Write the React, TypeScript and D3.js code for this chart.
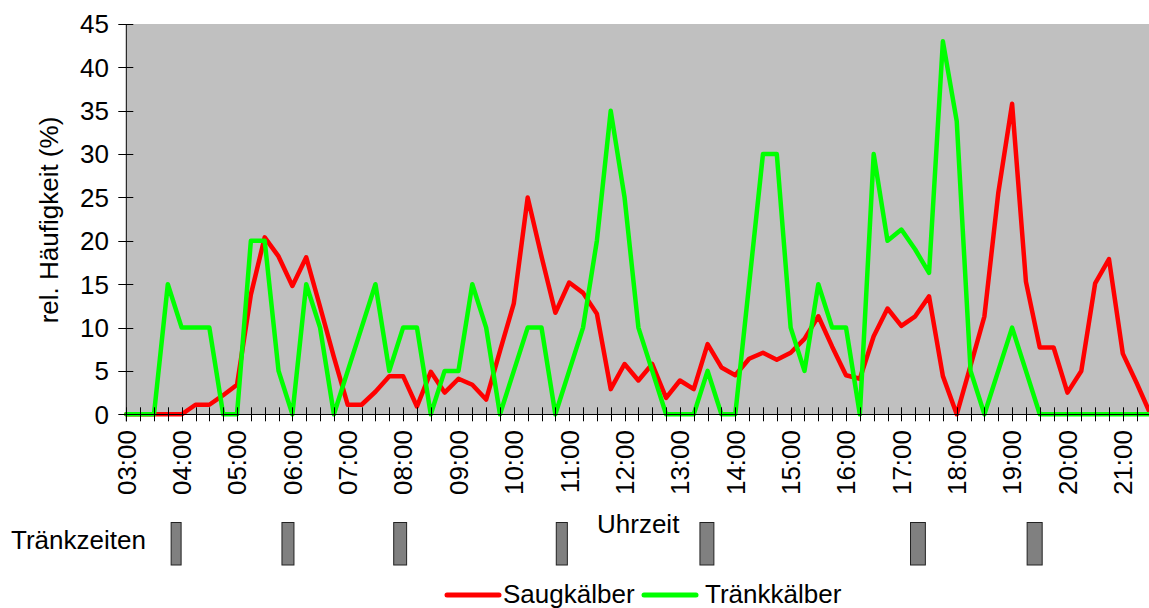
import React, { useEffect, useRef } from "react";
import * as d3 from "d3";

// ---- data ----
const startMinutes = 180; // 03:00
const stepMinutes = 15;

const saugkaelber = [
  0, 0, 0, 0, 0, 1.1, 1.1, 2.2, 3.4, 13.8, 20.4, 18.2, 14.8, 18.1, 12.4, 6.6,
  1.1, 1.1, 2.6, 4.4, 4.4, 0.9, 4.9, 2.5, 4.1, 3.4, 1.7, 7.3, 12.8, 25.0, 18.2,
  11.7, 15.2, 14.0, 11.6, 2.9, 5.8, 3.9, 5.8, 1.9, 3.9, 2.9, 8.1, 5.4, 4.5, 6.4,
  7.1, 6.3, 7.1, 8.7, 11.3, 7.8, 4.5, 4.1, 9.0, 12.2, 10.2, 11.3, 13.6, 4.4, 0,
  5.6, 11.3, 25.5, 35.8, 15.3, 7.7, 7.7, 2.5, 5.0, 15.1, 17.9, 7.0, 3.6, 0,
];

const traenkkaelber = [
  0, 0, 0, 15, 10, 10, 10, 0, 0, 20, 20, 5, 0, 15, 10, 0, 5, 10, 15, 5, 10, 10,
  0, 5, 5, 15, 10, 0, 5, 10, 10, 0, 5, 10, 20, 35, 25, 10, 5, 0, 0, 0, 5, 0, 0,
  15, 30, 30, 10, 5, 15, 10, 10, 0, 30, 20, 21.3, 19, 16.3, 43, 33.8, 5, 0, 5,
  10, 5, 0, 0, 0, 0, 0, 0, 0, 0, 0,
];

const xTickLabels = [
  "03:00", "04:00", "05:00", "06:00", "07:00", "08:00", "09:00", "10:00",
  "11:00", "12:00", "13:00", "14:00", "15:00", "16:00", "17:00", "18:00",
  "19:00", "20:00", "21:00",
];

const yTicks = [0, 5, 10, 15, 20, 25, 30, 35, 40, 45];

// drinking times (start, end) in minutes of day
const traenkzeitenStart = [228.6, 348.7, 469.8, 646, 801.7, 1029.9, 1156.3];
const traenkzeitenEnd = [239.4, 361.7, 483.8, 658, 816.8, 1046, 1172.6];

const seriesNames = ["Saugkälber", "Tränkkälber"];
const seriesColors = ["#ff0000", "#00ff00"];

const FONT = "'Liberation Sans', Arial, sans-serif";
const FS = 26;

export default function App() {
  const ref = useRef<SVGSVGElement | null>(null);

  useEffect(() => {
    const svg = d3.select(ref.current);
    svg.selectAll("*").remove();

    const left = 126.3;
    const right = 1150.5;
    const top = 24;
    const bottom = 414.3;

    const x = d3
      .scaleLinear()
      .domain([startMinutes, startMinutes + (saugkaelber.length - 1) * stepMinutes])
      .range([left, right]);
    const y = d3.scaleLinear().domain([0, 45]).range([bottom, top]);

    // plot area
    svg
      .append("rect")
      .attr("x", left)
      .attr("y", top)
      .attr("width", right - left)
      .attr("height", bottom - top)
      .attr("fill", "#c0c0c0");

    // series lines
    const line = d3
      .line<number>()
      .x((_, i) => x(startMinutes + i * stepMinutes))
      .y((d) => y(d));

    [saugkaelber, traenkkaelber].forEach((s, k) => {
      svg
        .append("path")
        .attr("d", line(s) as string)
        .attr("fill", "none")
        .attr("stroke", seriesColors[k])
        .attr("stroke-width", 4.5)
        .attr("stroke-linejoin", "round")
        .attr("stroke-linecap", "round");
    });

    // y axis
    svg
      .append("line")
      .attr("x1", left)
      .attr("x2", left)
      .attr("y1", top)
      .attr("y2", bottom + 7)
      .attr("stroke", "#000")
      .attr("stroke-width", 1);
    const yg = svg.append("g");
    yTicks.forEach((t) => {
      yg.append("line")
        .attr("x1", left - 8)
        .attr("x2", left + 7)
        .attr("y1", Math.round(y(t)) + 0.5)
        .attr("y2", Math.round(y(t)) + 0.5)
        .attr("stroke", "#000");
      yg.append("text")
        .attr("x", 109)
        .attr("y", y(t))
        .attr("dy", "0.36em")
        .attr("text-anchor", "end")
        .attr("font-family", FONT)
        .attr("font-size", FS)
        .attr("fill", "#000")
        .text(String(t));
    });

    // x axis
    svg
      .append("line")
      .attr("x1", left)
      .attr("x2", right)
      .attr("y1", Math.round(bottom) + 0.5)
      .attr("y2", Math.round(bottom) + 0.5)
      .attr("stroke", "#000")
      .attr("stroke-width", 1);
    const xg = svg.append("g");
    for (let i = 0; i < saugkaelber.length; i++) {
      const xx = Math.round(x(startMinutes + i * stepMinutes)) + 0.5;
      xg.append("line")
        .attr("x1", xx)
        .attr("x2", xx)
        .attr("y1", bottom - 7)
        .attr("y2", bottom + 7)
        .attr("stroke", "#000");
    }
    xTickLabels.forEach((lab, i) => {
      const xx = x(startMinutes + i * 60);
      xg.append("text")
        .attr("transform", `translate(${xx},430) rotate(-90)`)
        .attr("dy", "0.36em")
        .attr("text-anchor", "end")
        .attr("font-family", FONT)
        .attr("font-size", FS)
        .attr("fill", "#000")
        .text(lab);
    });

    // axis titles
    svg
      .append("text")
      .attr("transform", `translate(49,220) rotate(-90)`)
      .attr("dy", "0.36em")
      .attr("text-anchor", "middle")
      .attr("font-family", FONT)
      .attr("font-size", FS)
      .attr("fill", "#000")
      .text("rel. Häufigkeit (%)");

    svg
      .append("text")
      .attr("x", 597)
      .attr("y", 533)
      .attr("font-family", FONT)
      .attr("font-size", FS)
      .attr("fill", "#000")
      .text("Uhrzeit");

    // Tränkzeiten
    svg
      .append("text")
      .attr("x", 11)
      .attr("y", 549)
      .attr("font-family", FONT)
      .attr("font-size", FS)
      .attr("fill", "#000")
      .text("Tränkzeiten");

    traenkzeitenStart.forEach((s, i) => {
      const x0 = x(s);
      const x1 = x(traenkzeitenEnd[i]);
      svg
        .append("rect")
        .attr("x", x0)
        .attr("y", 522.5)
        .attr("width", x1 - x0)
        .attr("height", 42.5)
        .attr("fill", "#808080")
        .attr("stroke", "#222")
        .attr("stroke-width", 1);
    });

    // legend
    const legendItems = [
      { x: 447, tx: 503 },
      { x: 644, tx: 705 },
    ];
    legendItems.forEach((it, k) => {
      svg
        .append("line")
        .attr("x1", it.x)
        .attr("x2", it.x + 52)
        .attr("y1", 595)
        .attr("y2", 595)
        .attr("stroke", seriesColors[k])
        .attr("stroke-width", 5)
        .attr("stroke-linecap", "round");
      svg
        .append("text")
        .attr("x", it.tx)
        .attr("y", 603)
        .attr("font-family", FONT)
        .attr("font-size", FS)
        .attr("fill", "#000")
        .text(seriesNames[k]);
    });
  }, []);

  return (
    <svg
      ref={ref}
      width={1149}
      height={608}
      style={{ position: "absolute", left: 0, top: 0, background: "#fff" }}
    />
  );
}
